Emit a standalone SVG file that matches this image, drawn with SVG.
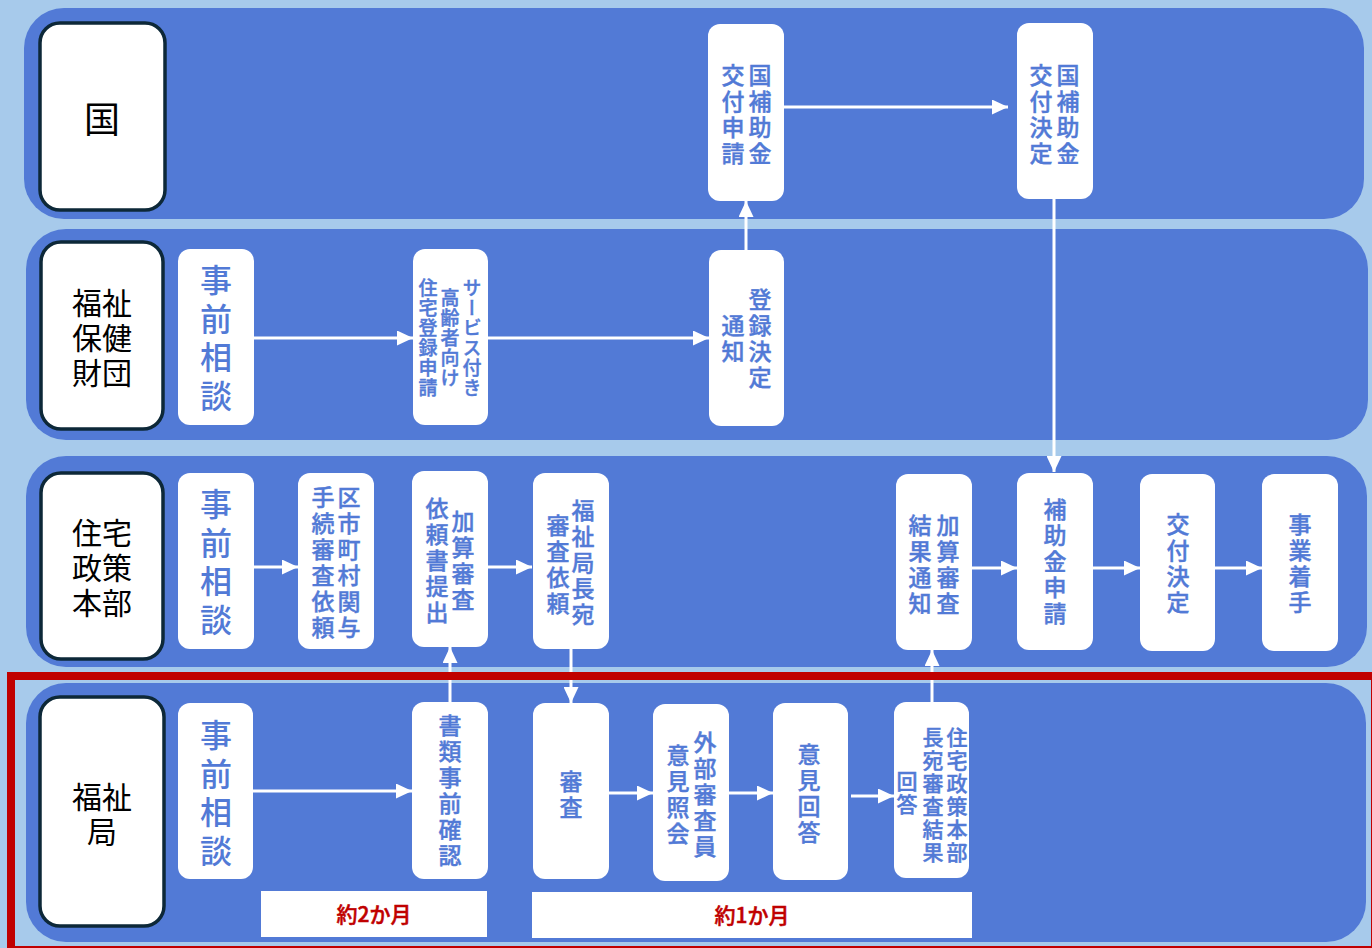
<svg xmlns="http://www.w3.org/2000/svg" width="1372" height="948" viewBox="0 0 1372 948">
<style>
.lane{fill:#527AD6}
.hdr{fill:#fff;stroke:#0D2838;stroke-width:3.5}
.box{fill:#fff}
.ht{font-family:"Noto Sans CJK JP","Noto Sans CJK SC",sans-serif;font-size:30px;fill:#000;text-anchor:middle}
.vt{font-family:"Noto Sans CJK JP","Noto Sans CJK SC",sans-serif;fill:#527AD6;stroke:#527AD6;stroke-width:0.4;writing-mode:vertical-rl;text-anchor:middle;font-weight:500}
.big{font-size:32px;letter-spacing:6.5px;stroke-width:0}
.m{font-size:23px;letter-spacing:3px}
.s{font-size:19px;letter-spacing:1px}
.lbl{font-family:"Noto Sans CJK JP","Noto Sans CJK SC",sans-serif;font-size:21px;fill:#C00000;stroke:#C00000;stroke-width:0.5;text-anchor:middle;font-weight:500}
.conn path{stroke:#fff;stroke-width:3;fill:none;marker-end:url(#ah)}
</style>
<defs>
<marker id="ah" markerWidth="16" markerHeight="15" refX="16" refY="7.5" orient="auto" markerUnits="userSpaceOnUse">
<path d="M0,0 L16,7.5 L0,15 z" fill="#fff"/>
</marker>
</defs>
<rect x="0" y="0" width="1372" height="948" fill="#A7CAEB"/>
<g id="lanes">
<rect class="lane" x="24" y="8" width="1340" height="211" rx="40"/>
<rect class="lane" x="26" y="229" width="1342" height="211" rx="40"/>
<rect class="lane" x="26" y="456" width="1341" height="211" rx="40"/>
<rect class="lane" x="26" y="683" width="1340" height="259" rx="40"/>
</g>
<g id="h-kuni"><rect class="hdr" x="40" y="23" width="125" height="187" rx="20"/><text class="ht" x="102" y="133" style="font-size:36px">国</text></g>
<g id="h-zaidan"><rect class="hdr" x="41" y="242" width="122" height="187" rx="20"/><text class="ht" x="102" y="314"><tspan x="102">福祉</tspan><tspan x="102" dy="35">保健</tspan><tspan x="102" dy="35">財団</tspan></text></g>
<g id="h-jutaku"><rect class="hdr" x="41" y="473" width="122" height="186" rx="20"/><text class="ht" x="102" y="544"><tspan x="102">住宅</tspan><tspan x="102" dy="35">政策</tspan><tspan x="102" dy="35">本部</tspan></text></g>
<g id="h-fukushi"><rect class="hdr" x="40" y="697" width="124" height="229" rx="20"/><text class="ht" x="102" y="808"><tspan x="102">福祉</tspan><tspan x="102" dy="35">局</tspan></text></g>

<g id="n-kofushinsei"><rect class="box" x="708" y="24" width="76" height="177" rx="12"/><text class="vt m" x="760" y="116">国補助金</text><text class="vt m" x="733" y="116">交付申請</text></g>
<g id="n-kofukettei-kuni"><rect class="box" x="1017" y="23" width="76" height="176" rx="12"/><text class="vt m" x="1068" y="116">国補助金</text><text class="vt m" x="1041" y="116">交付決定</text></g>

<g id="n-jizen2"><rect class="box" x="178" y="249" width="76" height="176" rx="12"/><text class="vt big" x="216" y="341">事前相談</text></g>
<g id="n-service"><rect class="box" x="413" y="249" width="75" height="176" rx="12"/><text class="vt s" x="472" y="338">サービス付き</text><text class="vt s" x="450" y="338">高齢者向け</text><text class="vt s" x="428" y="338">住宅登録申請</text></g>
<g id="n-toroku"><rect class="box" x="709" y="250" width="75" height="176" rx="12"/><text class="vt m" x="760" y="340">登録決定</text><text class="vt m" x="733" y="340">通知</text></g>

<g id="n-jizen3"><rect class="box" x="178" y="473" width="76" height="176" rx="12"/><text class="vt big" x="216" y="565">事前相談</text></g>
<g id="n-kushichoson"><rect class="box" x="298" y="473" width="76" height="176" rx="12"/><text class="vt m" x="349" y="564">区市町村関与</text><text class="vt m" x="323" y="564">手続審査依頼</text></g>
<g id="n-kasanirai"><rect class="box" x="412" y="471" width="76" height="176" rx="12"/><text class="vt m" x="463" y="562">加算審査</text><text class="vt m" x="437" y="562">依頼書提出</text></g>
<g id="n-kyokucho"><rect class="box" x="533" y="473" width="76" height="176" rx="12"/><text class="vt m" x="583" y="564">福祉局長宛</text><text class="vt m" x="558" y="566">審査依頼</text></g>
<g id="n-kekkatsuchi"><rect class="box" x="896" y="474" width="76" height="176" rx="12"/><text class="vt m" x="948" y="566">加算審査</text><text class="vt m" x="920" y="566">結果通知</text></g>
<g id="n-hojokin"><rect class="box" x="1017" y="473" width="76" height="177" rx="12"/><text class="vt m" x="1055" y="563">補助金申請</text></g>
<g id="n-kofukettei"><rect class="box" x="1140" y="474" width="75" height="177" rx="12"/><text class="vt m" x="1178" y="565">交付決定</text></g>
<g id="n-jigyo"><rect class="box" x="1262" y="474" width="76" height="177" rx="12"/><text class="vt m" x="1300" y="565">事業着手</text></g>

<g id="n-jizen4"><rect class="box" x="178" y="703" width="75" height="176" rx="12"/><text class="vt big" x="216" y="796">事前相談</text></g>
<g id="n-shorui"><rect class="box" x="412" y="702" width="76" height="177" rx="12"/><text class="vt m" x="450" y="792">書類事前確認</text></g>
<g id="n-shinsa"><rect class="box" x="533" y="703" width="76" height="176" rx="12"/><text class="vt m" x="571" y="796">審査</text></g>
<g id="n-gaibu"><rect class="box" x="653" y="704" width="76" height="177" rx="12"/><text class="vt m" x="705" y="796">外部審査員</text><text class="vt m" x="678" y="796">意見照会</text></g>
<g id="n-iken"><rect class="box" x="773" y="703" width="75" height="177" rx="12"/><text class="vt m" x="809" y="795">意見回答</text></g>
<g id="n-kaito"><rect class="box" x="894" y="702" width="75" height="176" rx="12"/><text class="vt s" x="957" y="796" style="font-size:21px;letter-spacing:2px">住宅政策本部</text><text class="vt s" x="933" y="796" style="font-size:21px;letter-spacing:2px">長宛審査結果</text><text class="vt s" x="907" y="794" style="font-size:21px;letter-spacing:2px">回答</text></g>

<g id="connectors" class="conn">
<path d="M254,338 H413"/>
<path d="M488,338 H709"/>
<path d="M746,250 V201"/>
<path d="M783,107 H1008"/>
<path d="M1054,199 V472"/>
<path d="M254,567 H298"/>
<path d="M488,567 H532"/>
<path d="M972,568 H1017"/>
<path d="M1093,568 H1140"/>
<path d="M1215,568 H1262"/>
<path d="M253,791 H412"/>
<path d="M450,702 V647"/>
<path d="M571,649 V703"/>
<path d="M609,793 H653"/>
<path d="M729,793 H773"/>
<path d="M851,796 H894"/>
<path d="M932,702 V650"/>
</g>

<g id="l-2month"><rect x="261" y="891" width="226" height="46" fill="#fff"/><text class="lbl" x="374" y="922">約2か月</text></g>
<g id="l-1month"><rect x="532" y="892" width="440" height="46" fill="#fff"/><text class="lbl" x="752" y="923">約1か月</text></g>

<rect id="highlight" x="11" y="676" width="1364" height="274" fill="none" stroke="#C00000" stroke-width="8"/>
</svg>
